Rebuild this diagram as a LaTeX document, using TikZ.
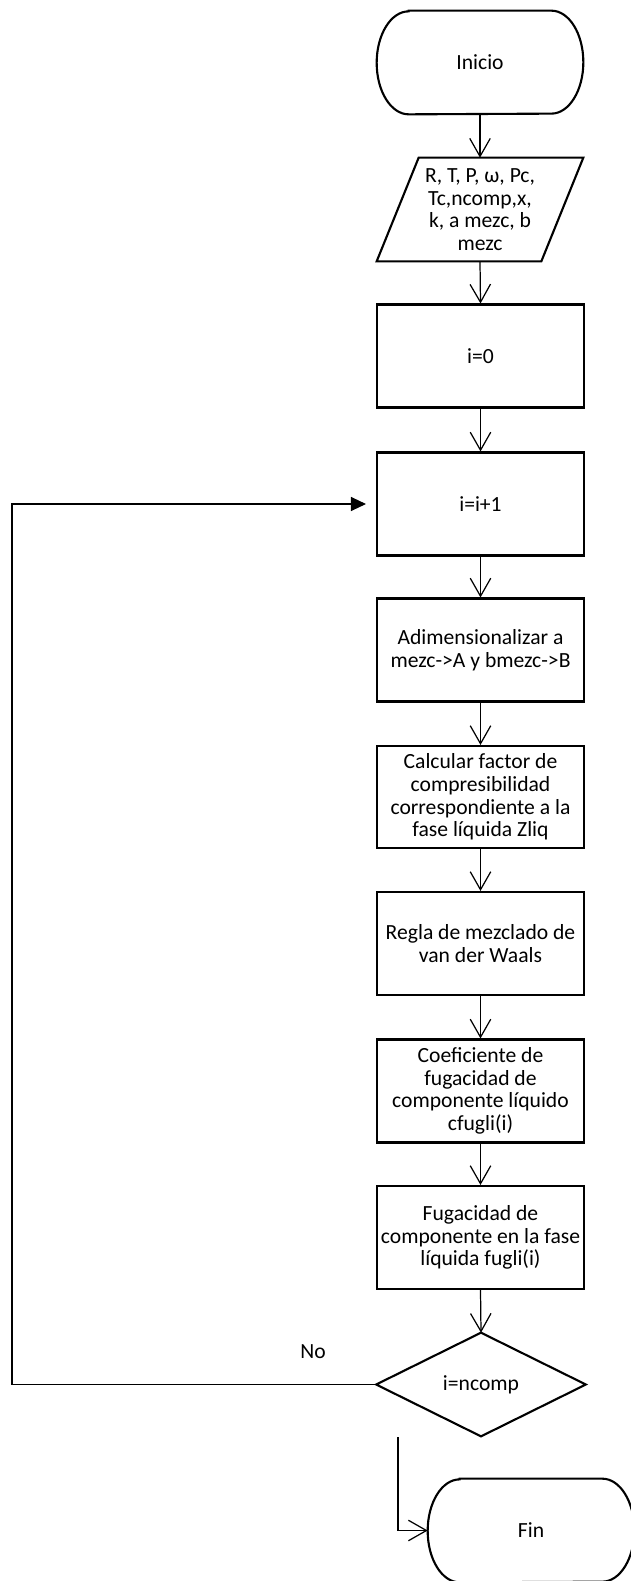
\documentclass[tikz,border=0pt]{standalone}
\usepackage{fontspec}
\setmainfont{Carlito}
\usetikzlibrary{arrows.meta}
\begin{document}
\begin{tikzpicture}[x=0.02cm,y=0.02cm,
  txt/.style={font=\fontsize{12.3}{12.9}\selectfont},
  box/.style={txt, draw, line width=1.2pt, minimum width=4.14cm, minimum height=2.06cm, inner sep=0pt, align=center},
  ghost/.style={txt, minimum width=4.12cm, minimum height=2.06cm, inner sep=0pt, align=center},
  outline/.style={line width=1.2pt},
  flow/.style={line width=0.7pt, -{Straight Barb[length=3.6mm,width=4.1mm]}},
  loopline/.style={line width=0.6pt, -{Triangle[length=3mm,width=2.8mm]}, shorten >=0.2cm}
]
\useasboundingbox (0,0) rectangle (631,-1581);

% start terminal
\node[ghost] (ini) at (480,-62.5) {Inicio};
\draw[outline] ([xshift=0.64cm]ini.north west) -- ([xshift=-0.64cm]ini.north east)
  arc[start angle=90,end angle=-90,x radius=0.64cm,y radius=1.03cm]
  -- ([xshift=0.64cm]ini.south west)
  arc[start angle=270,end angle=90,x radius=0.64cm,y radius=1.03cm] -- cycle;

% input parallelogram
\node[ghost] (inp) at (480,-209.5) {R, T, P, ω, Pc,\\Tc,ncomp,x,\\k, a mezc, b\\mezc};
\draw[outline] ([xshift=0.84cm]inp.north west) -- (inp.north east)
  -- ([xshift=-0.84cm]inp.south east) -- (inp.south west) -- cycle;

% process boxes
\node[box] (b0) at (480.5,-356) {i=0};
\node[box] (b1) at (480.5,-504) {i=i+1};
\node[box] (adim) at (480.5,-650) {Adimensionalizar a\\mezc->A y bmezc->B};
\node[box, minimum height=2.04cm] (calc) at (480.5,-797) {Calcular factor de\\compresibilidad\\correspondiente a la\\fase líquida Zliq};
\node[box] (regla) at (480.5,-943.5) {Regla de mezclado de\\van der Waals};
\node[box] (coef) at (480.5,-1091) {Coeficiente de\\fugacidad de\\componente líquido\\cfugli(i)};
\node[box] (fuga) at (480.5,-1237.5) {Fugacidad de\\componente en la fase\\líquida fugli(i)};

% decision
\node[ghost, minimum width=4.18cm] (dec) at (481,-1384.5) {i=ncomp};
\draw[outline] (dec.north) -- (dec.east) -- (dec.south) -- (dec.west) -- cycle;

% end terminal
\node[ghost] (fin) at (531,-1530.5) {Fin};
\draw[outline] ([xshift=0.64cm]fin.north west) -- ([xshift=-0.64cm]fin.north east)
  arc[start angle=90,end angle=-90,x radius=0.64cm,y radius=1.03cm]
  -- ([xshift=0.64cm]fin.south west)
  arc[start angle=270,end angle=90,x radius=0.64cm,y radius=1.03cm] -- cycle;

% label
\node[txt] (no) at (313,-1352) {No};

% connectors
\draw[flow] (ini.south) -- (inp.north);
\draw[flow] (inp.south) -- (b0.north);
\draw[flow] (b0.south) -- (b1.north);
\draw[flow] (b1.south) -- (adim.north);
\draw[flow] (adim.south) -- (calc.north);
\draw[flow] (calc.south) -- (regla.north);
\draw[flow] (regla.south) -- (coef.north);
\draw[flow] (coef.south) -- (fuga.north);
\draw[flow] (fuga.south) -- (dec.north);

\coordinate (lp) at (12,-504);
\draw[loopline] (dec.west) -| (lp) -- (b1.west);

\coordinate (fs) at (398,-1437);
\draw[flow] (fs) |- (fin.west);
\end{tikzpicture}
\end{document}
